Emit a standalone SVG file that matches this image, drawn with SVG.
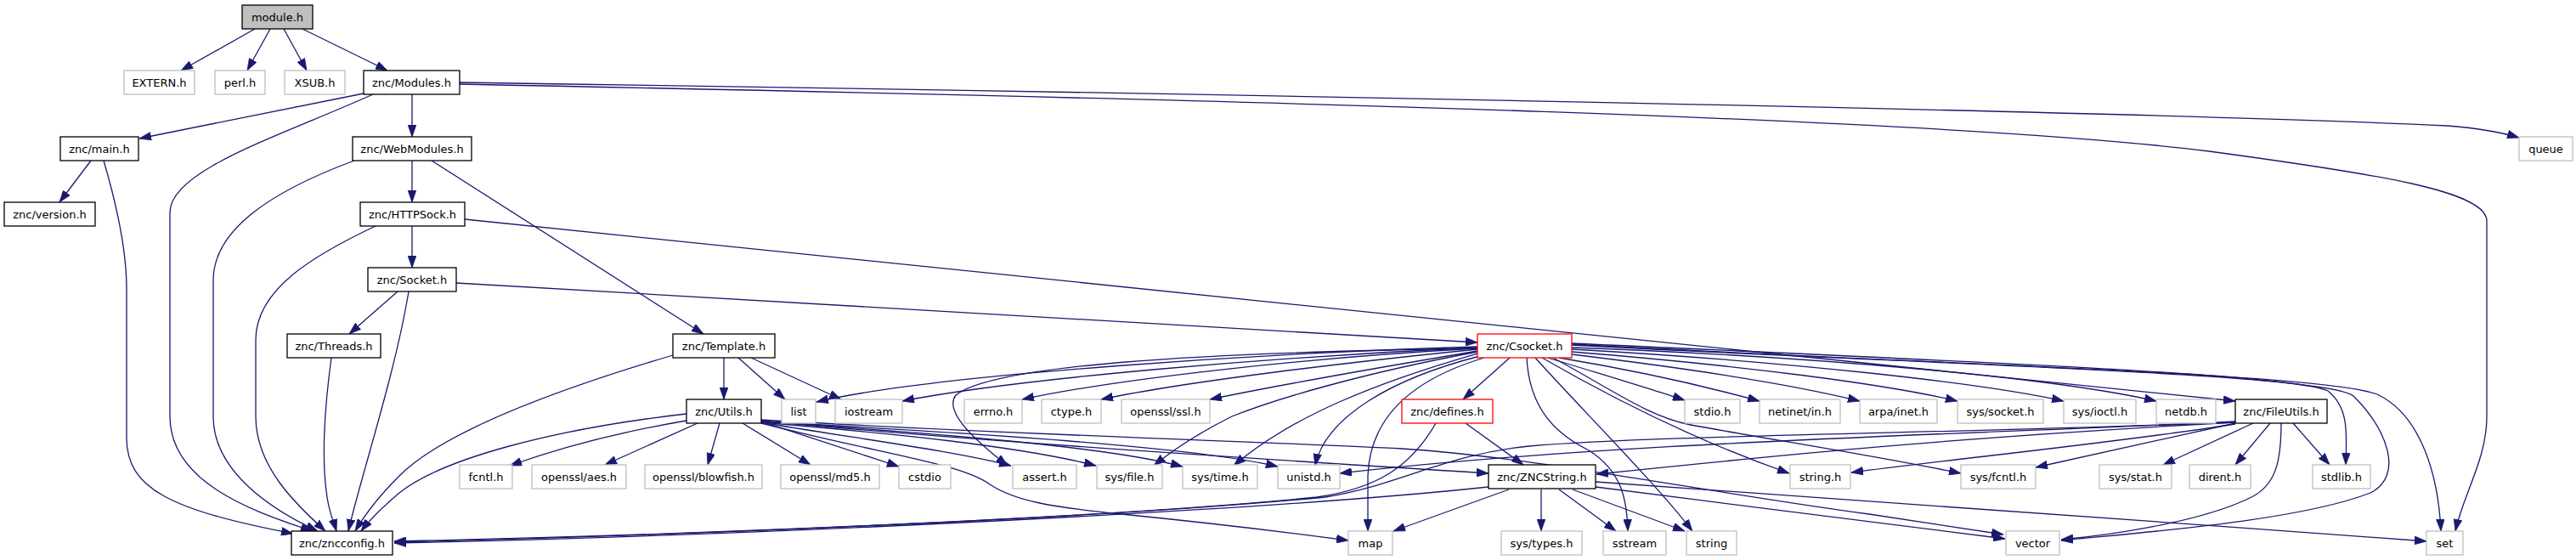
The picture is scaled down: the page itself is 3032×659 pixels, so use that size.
<svg xmlns="http://www.w3.org/2000/svg" width="3032" height="659" viewBox="0 0 3032 659">
<style>
.n rect{fill:#fff;stroke:#bfbfbf;stroke-width:1.3}
.n.d rect{stroke:#000}
.n.r rect{stroke:#ff0000}
.n.m rect{fill:#bfbfbf;stroke:#000}
text{font-family:"DejaVu Sans","Liberation Sans",sans-serif;font-size:13px;text-anchor:middle;fill:#000}
#edges path{fill:none;stroke:#191970;stroke-width:1.3;marker-end:url(#a)}
</style>
<defs>
<marker id="a" viewBox="0 0 10 7" refX="10" refY="3.5" markerWidth="14" markerHeight="10" markerUnits="userSpaceOnUse" orient="auto"><path d="M0,0L10,3.5L0,7z" fill="#191970" stroke="#191970" stroke-width="0.5"/></marker>
</defs>
<rect width="3032" height="659" fill="#fff"/>
<g id="edges">
<path d="M300,34L213,83"/>
<path d="M318,34L291,83"/>
<path d="M334,34L361,83"/>
<path d="M356,34L456,83"/>
<path d="M428,110L164,163"/>
<path d="M439,111C330,160 200,200 200,250L200,490C200,565 290,600 368,625"/>
<path d="M485,111L485,161"/>
<path d="M541,97C1300,108 2500,130 2880,148C2920,151 2945,156 2965,162"/>
<path d="M541,99C1500,118 2300,140 2600,178C2800,205 2927,225 2927,260L2927,490C2927,540 2900,580 2890,625"/>
<path d="M107,189L70,238"/>
<path d="M122,189C140,250 149,300 149,340L149,515C149,575 200,600 345,628"/>
<path d="M417,189C320,225 251,270 251,330L251,490C251,555 320,600 374,625"/>
<path d="M485,189L485,238"/>
<path d="M508,189L828,393"/>
<path d="M442,266C370,300 301,340 301,400L301,490C301,550 350,595 383,625"/>
<path d="M485,266L485,315"/>
<path d="M547,258L2631,472"/>
<path d="M468,343L411,393"/>
<path d="M481,343C465,440 425,560 410,625"/>
<path d="M537,333L1739,403"/>
<path d="M390,421C382,480 378,540 385,585C388,605 393,615 396,625"/>
<path d="M792,418C650,460 520,510 470,560C445,585 428,608 418,625"/>
<path d="M852,421L852,470"/>
<path d="M869,421L924,470"/>
<path d="M884,421L990,470"/>
<path d="M808,487C650,505 520,540 470,580C450,597 435,612 425,625"/>
<path d="M808,495C720,510 650,530 600,548"/>
<path d="M821,498L712,547"/>
<path d="M847,498L833,547"/>
<path d="M874,498L954,547"/>
<path d="M896,496L1058,549"/>
<path d="M896,497C1000,515 1120,530 1190,548"/>
<path d="M896,497C1050,510 1200,525 1290,548"/>
<path d="M896,496C1100,510 1300,525 1392,549"/>
<path d="M896,496C1150,510 1400,525 1504,549"/>
<path d="M896,498C1040,535 1130,545 1165,570C1195,590 1240,597 1320,605C1420,615 1520,627 1587,636"/>
<path d="M896,495C1100,515 1400,535 1752,557"/>
<path d="M896,494C1200,512 1500,520 1650,528C1800,537 2000,578 2200,605L2358,629"/>
<path d="M1739,408C1500,415 1100,440 961,473"/>
<path d="M1739,409C1500,420 1200,445 1062,472"/>
<path d="M1739,410C1550,420 1320,445 1203,470"/>
<path d="M1739,411C1600,425 1400,448 1296,470"/>
<path d="M1739,413C1650,428 1520,450 1424,470"/>
<path d="M1739,410C1400,415 1170,430 1125,465C1110,485 1150,520 1186,548"/>
<path d="M1739,414C1600,440 1500,470 1450,490C1410,510 1380,530 1358,548"/>
<path d="M1739,416C1620,450 1520,490 1452,548"/>
<path d="M1742,419C1640,445 1560,490 1548,548"/>
<path d="M1747,421C1650,450 1612,500 1610,560L1610,625"/>
<path d="M1777,421L1722,470"/>
<path d="M1797,421C1800,480 1830,510 1870,530C1910,555 1915,590 1916,625"/>
<path d="M1807,421C1860,480 1950,570 1992,625"/>
<path d="M1815,421C1900,470 2000,520 2106,557"/>
<path d="M1828,421C1900,460 1940,490 1990,500C2100,520 2200,535 2308,557"/>
<path d="M1822,421C1900,445 1950,460 1983,471"/>
<path d="M1835,421C1950,440 2020,458 2071,472"/>
<path d="M1850,417C2000,435 2120,455 2189,472"/>
<path d="M1850,414C2050,430 2220,452 2304,472"/>
<path d="M1850,411C2100,425 2330,450 2429,472"/>
<path d="M1850,409C2150,420 2420,445 2538,472"/>
<path d="M1850,404C2300,425 2700,440 2740,460C2765,480 2762,510 2761,547"/>
<path d="M1850,406C2300,430 2740,440 2770,466C2810,505 2830,560 2790,580C2700,615 2500,628 2426,636"/>
<path d="M1850,405C2300,430 2750,440 2800,465C2850,490 2870,560 2873,625"/>
<path d="M1690,498C1660,550 1620,575 1550,585C1300,610 800,630 464,638"/>
<path d="M1725,498L1793,547"/>
<path d="M1752,573C1500,600 900,630 464,639"/>
<path d="M1776,576L1640,625"/>
<path d="M1814,576L1814,625"/>
<path d="M1835,576L1902,625"/>
<path d="M1851,576L1983,625"/>
<path d="M1878,567C2100,585 2500,610 2856,637"/>
<path d="M1878,573C2050,595 2250,620 2360,634"/>
<path d="M2631,497C2300,510 1950,512 1800,525C1700,535 1650,570 1560,585C1300,610 800,630 464,637"/>
<path d="M2631,496C2300,512 1900,520 1577,557"/>
<path d="M2631,497C2300,515 2100,535 1879,558"/>
<path d="M2631,499C2500,520 2300,540 2179,556"/>
<path d="M2631,498L2396,550"/>
<path d="M2652,498L2546,547"/>
<path d="M2672,498L2631,547"/>
<path d="M2699,498L2742,547"/>
<path d="M2685,498C2685,540 2680,570 2650,585C2590,615 2480,630 2426,635"/>
</g>
<g id="module_h" class="n m"><rect x="285" y="6" width="83" height="28"/><text x="326.5" y="25">module.h</text></g>
<g id="EXTERN_h" class="n"><rect x="146" y="83" width="83" height="28"/><text x="187.5" y="102">EXTERN.h</text></g>
<g id="perl_h" class="n"><rect x="253" y="83" width="59" height="28"/><text x="282.5" y="102">perl.h</text></g>
<g id="XSUB_h" class="n"><rect x="335" y="83" width="71" height="28"/><text x="370.5" y="102">XSUB.h</text></g>
<g id="Modules_h" class="n d"><rect x="428" y="83" width="113" height="28"/><text x="484.5" y="102">znc/Modules.h</text></g>
<g id="main_h" class="n d"><rect x="71" y="161" width="92" height="28"/><text x="117" y="180">znc/main.h</text></g>
<g id="WebModules_h" class="n d"><rect x="415" y="161" width="140" height="28"/><text x="485" y="180">znc/WebModules.h</text></g>
<g id="queue" class="n"><rect x="2965" y="161" width="63" height="28"/><text x="2996.5" y="180">queue</text></g>
<g id="version_h" class="n d"><rect x="5" y="238" width="107" height="28"/><text x="58.5" y="257">znc/version.h</text></g>
<g id="HTTPSock_h" class="n d"><rect x="424" y="238" width="123" height="28"/><text x="485.5" y="257">znc/HTTPSock.h</text></g>
<g id="Socket_h" class="n d"><rect x="433" y="315" width="104" height="28"/><text x="485" y="334">znc/Socket.h</text></g>
<g id="Threads_h" class="n d"><rect x="338" y="393" width="110" height="28"/><text x="393" y="412">znc/Threads.h</text></g>
<g id="Template_h" class="n d"><rect x="792" y="393" width="120" height="28"/><text x="852" y="412">znc/Template.h</text></g>
<g id="Csocket_h" class="n r"><rect x="1739" y="393" width="111" height="28"/><text x="1794.5" y="412">znc/Csocket.h</text></g>
<g id="Utils_h" class="n d"><rect x="808" y="470" width="88" height="28"/><text x="852" y="489">znc/Utils.h</text></g>
<g id="list" class="n"><rect x="920" y="470" width="40" height="28"/><text x="940" y="489">list</text></g>
<g id="iostream" class="n"><rect x="983" y="470" width="79" height="28"/><text x="1022.5" y="489">iostream</text></g>
<g id="errno_h" class="n"><rect x="1135" y="470" width="68" height="28"/><text x="1169" y="489">errno.h</text></g>
<g id="ctype_h" class="n"><rect x="1226" y="470" width="70" height="28"/><text x="1261" y="489">ctype.h</text></g>
<g id="openssl_ssl_h" class="n"><rect x="1320" y="470" width="104" height="28"/><text x="1372" y="489">openssl/ssl.h</text></g>
<g id="defines_h" class="n r"><rect x="1650" y="470" width="107" height="28"/><text x="1703.5" y="489">znc/defines.h</text></g>
<g id="stdio_h" class="n"><rect x="1983" y="470" width="65" height="28"/><text x="2015.5" y="489">stdio.h</text></g>
<g id="netinet_in_h" class="n"><rect x="2071" y="470" width="95" height="28"/><text x="2118.5" y="489">netinet/in.h</text></g>
<g id="arpa_inet_h" class="n"><rect x="2189" y="470" width="91" height="28"/><text x="2234.5" y="489">arpa/inet.h</text></g>
<g id="sys_socket_h" class="n"><rect x="2304" y="470" width="101" height="28"/><text x="2354.5" y="489">sys/socket.h</text></g>
<g id="sys_ioctl_h" class="n"><rect x="2429" y="470" width="85" height="28"/><text x="2471.5" y="489">sys/ioctl.h</text></g>
<g id="netdb_h" class="n"><rect x="2538" y="470" width="70" height="28"/><text x="2573" y="489">netdb.h</text></g>
<g id="FileUtils_h" class="n d"><rect x="2631" y="470" width="108" height="28"/><text x="2685" y="489">znc/FileUtils.h</text></g>
<g id="fcntl_h" class="n"><rect x="541" y="547" width="62" height="28"/><text x="572" y="566">fcntl.h</text></g>
<g id="openssl_aes_h" class="n"><rect x="626" y="547" width="111" height="28"/><text x="681.5" y="566">openssl/aes.h</text></g>
<g id="openssl_blowfish_h" class="n"><rect x="759" y="547" width="138" height="28"/><text x="828" y="566">openssl/blowfish.h</text></g>
<g id="openssl_md5_h" class="n"><rect x="919" y="547" width="116" height="28"/><text x="977" y="566">openssl/md5.h</text></g>
<g id="cstdio" class="n"><rect x="1058" y="547" width="61" height="28"/><text x="1088.5" y="566">cstdio</text></g>
<g id="assert_h" class="n"><rect x="1192" y="547" width="75" height="28"/><text x="1229.5" y="566">assert.h</text></g>
<g id="sys_file_h" class="n"><rect x="1291" y="547" width="77" height="28"/><text x="1329.5" y="566">sys/file.h</text></g>
<g id="sys_time_h" class="n"><rect x="1392" y="547" width="88" height="28"/><text x="1436" y="566">sys/time.h</text></g>
<g id="unistd_h" class="n"><rect x="1504" y="547" width="73" height="28"/><text x="1540.5" y="566">unistd.h</text></g>
<g id="ZNCString_h" class="n d"><rect x="1752" y="547" width="126" height="28"/><text x="1815" y="566">znc/ZNCString.h</text></g>
<g id="string_h" class="n"><rect x="2107" y="547" width="71" height="28"/><text x="2142.5" y="566">string.h</text></g>
<g id="sys_fcntl_h" class="n"><rect x="2308" y="547" width="88" height="28"/><text x="2352" y="566">sys/fcntl.h</text></g>
<g id="sys_stat_h" class="n"><rect x="2471" y="547" width="85" height="28"/><text x="2513.5" y="566">sys/stat.h</text></g>
<g id="dirent_h" class="n"><rect x="2577" y="547" width="72" height="28"/><text x="2613" y="566">dirent.h</text></g>
<g id="stdlib_h" class="n"><rect x="2722" y="547" width="68" height="28"/><text x="2756" y="566">stdlib.h</text></g>
<g id="zncconfig_h" class="n d"><rect x="343" y="625" width="119" height="28"/><text x="402.5" y="644">znc/zncconfig.h</text></g>
<g id="map" class="n"><rect x="1587" y="625" width="52" height="28"/><text x="1613" y="644">map</text></g>
<g id="sys_types_h" class="n"><rect x="1767" y="625" width="95" height="28"/><text x="1814.5" y="644">sys/types.h</text></g>
<g id="sstream" class="n"><rect x="1887" y="625" width="74" height="28"/><text x="1924" y="644">sstream</text></g>
<g id="string" class="n"><rect x="1985" y="625" width="59" height="28"/><text x="2014.5" y="644">string</text></g>
<g id="vector" class="n"><rect x="2361" y="625" width="63" height="28"/><text x="2392.5" y="644">vector</text></g>
<g id="set" class="n"><rect x="2856" y="625" width="43" height="28"/><text x="2877.5" y="644">set</text></g>
</svg>
